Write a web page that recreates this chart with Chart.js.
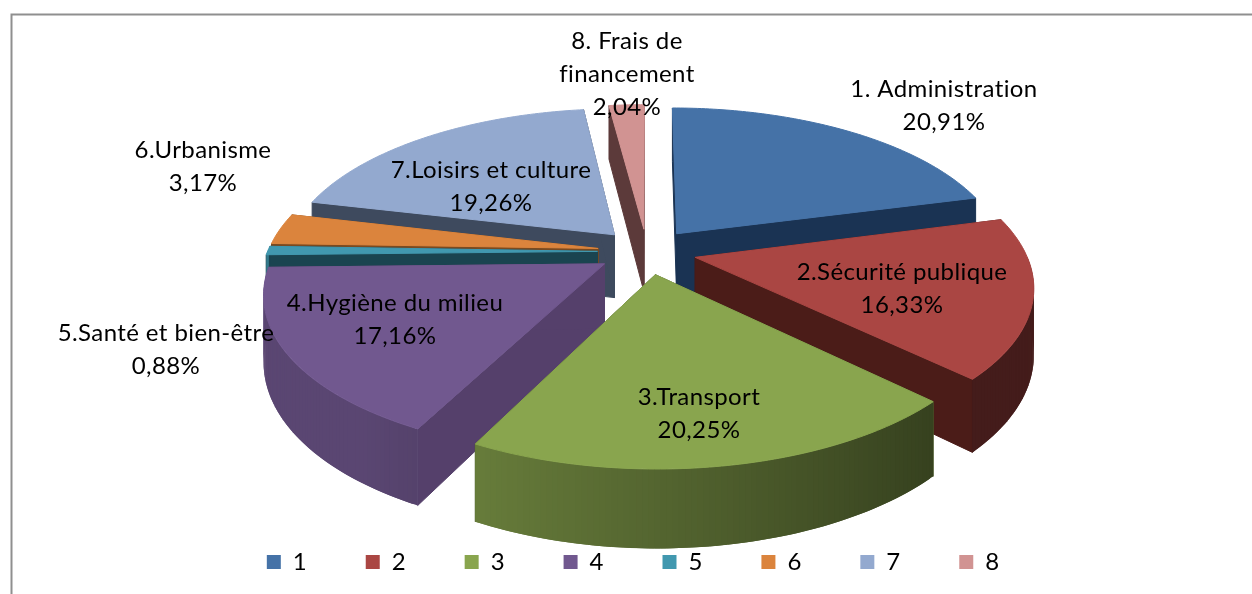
<!DOCTYPE html>
<html><head><meta charset="utf-8">
<style>html,body{margin:0;padding:0;background:#fff;overflow:hidden}canvas{display:block}</style>
<script src="https://cdn.jsdelivr.net/npm/chart.js@4"></script></head>
<body><div style="width:1252px;height:594px"><canvas id="c"></canvas></div>
<script>
const categories = ['1','2','3','4','5','6','7','8'];
const values = [20.91,16.33,20.25,17.16,0.88,3.17,19.26,2.04];
const topColors = ['#4572A7','#AA4643','#89A54E','#71588F','#4198AF','#DB843D','#93A9CF','#D19392'];
const wallColors = ['#1A3353','#4B1C18','#4B5A2A','#55406B','#1A4450','#7A4A20','#3E4A5E','#5C3A3A'];
const labelLines = [
  ['1. Administration','20,91%'],['2.Sécurité publique','16,33%'],['3.Transport','20,25%'],
  ['4.Hygiène du milieu','17,16%'],['5.Santé et bien-être','0,88%'],['6.Urbanisme','3,17%'],
  ['7.Loisirs et culture','19,26%'],['8. Frais de','financement','2,04%']];
const labelAnchors = [[944,89],[902,272],[699,397],[395,303],[166,333],[203,150],[491,170],[627,41]];
const FONT = 'Lato, Carlito, sans-serif';
const VIEW = {cx:647, cy:251.5, r:330, t:152.6, p:0.1695, depth:64};

function project(gx, gy){
  const w = 1/(1-VIEW.p*gy);
  return {x:VIEW.cx+VIEW.r*gx*w, y:VIEW.cy+VIEW.t*gy*w, d:VIEW.depth*w};
}
function shade(hex,f){
  const n=parseInt(hex.slice(1),16);
  const c=[n>>16,(n>>8)&255,n&255].map(v=>Math.round(v*f));
  return `rgb(${c[0]},${c[1]},${c[2]})`;
}
const pie3d = {
  id:'pie3d',
  beforeDraw(chart){
    const ctx=chart.ctx; ctx.save();
    ctx.strokeStyle='#8f8f8f'; ctx.lineWidth=2;
    ctx.beginPath(); ctx.moveTo(11.5,594); ctx.lineTo(11.5,14.5); ctx.lineTo(1252,14.5); ctx.stroke();
    ctx.restore();
  },
  beforeDatasetsDraw(chart){
    const ctx=chart.ctx, arcs=chart.getDatasetMeta(0).data;
    const order=arcs.map((el,i)=>{
      const mid=(el.startAngle+el.endAngle)/2;
      return {el,i,mid,sort:Math.sin(mid)};
    }).sort((a,b)=>a.sort-b.sort);
    ctx.save(); ctx.lineJoin='round';
    order.forEach(({el,i,mid})=>{
      const e=el.options.offset/el.outerRadius;
      const ox=Math.cos(mid)*e, oy=Math.sin(mid)*e;
      const steps=Math.max(3,Math.ceil((el.endAngle-el.startAngle)/0.015));
      const pts=[];
      for(let k=0;k<=steps;k++){
        const a=el.startAngle+(el.endAngle-el.startAngle)*k/steps;
        pts.push(Object.assign(project(Math.cos(a)+ox,Math.sin(a)+oy),{X:Math.cos(a),S:Math.sin(a)}));
      }
      const apex=project(ox,oy);
      const quad=(p,q,col,edge)=>{
        ctx.fillStyle=col;
        ctx.beginPath(); ctx.moveTo(p.x,p.y); ctx.lineTo(q.x,q.y);
        ctx.lineTo(q.x,q.y+q.d); ctx.lineTo(p.x,p.y+p.d); ctx.closePath(); ctx.fill();
        if(edge){ctx.strokeStyle=col; ctx.lineWidth=1; ctx.stroke();}
      };
      quad(apex,pts[0],wallColors[i],true);
      quad(apex,pts[steps],wallColors[i],true);
      for(let k=0;k<steps;k++){
        if(pts[k].S<=0 && pts[k+1].S<=0) continue;
        const X=(pts[k].X+pts[k+1].X)/2;
        const f=Math.min(.8,Math.max(.4,.4+.35*(.7-X)/1.15));
        quad(pts[k],pts[Math.min(k+2,steps)],shade(topColors[i],f),false);
      }
      ctx.fillStyle=topColors[i]; ctx.strokeStyle=topColors[i]; ctx.lineWidth=1;
      ctx.beginPath(); ctx.moveTo(apex.x,apex.y);
      pts.forEach(p=>ctx.lineTo(p.x,p.y)); ctx.closePath(); ctx.fill(); ctx.stroke();
    });
    ctx.restore();
    return false;
  },
  afterDraw(chart){
    const ctx=chart.ctx; ctx.save();
    ctx.font='24px '+FONT; ctx.fillStyle='#000'; ctx.textAlign='center'; ctx.textBaseline='middle';
    ctx.letterSpacing='0.4px';
    labelLines.forEach((lines,i)=>{
      lines.forEach((t,j)=>ctx.fillText(t,labelAnchors[i][0],labelAnchors[i][1]+33*j));
    });
    ctx.restore();
  }
};
new Chart(document.getElementById('c'),{
  type:'pie',
  data:{labels:categories,datasets:[{data:values,backgroundColor:topColors,borderWidth:0,offset:30}]},
  options:{
    responsive:true,maintainAspectRatio:false,animation:false,events:[],
    radius:200,
    layout:{padding:{bottom:10,left:14}},
    plugins:{tooltip:{enabled:false},
      legend:{position:'bottom',labels:{boxWidth:14,boxHeight:14,padding:59,color:'#000',font:{family:FONT,size:24}}}}
  },
  plugins:[pie3d]
});
</script></body></html>
